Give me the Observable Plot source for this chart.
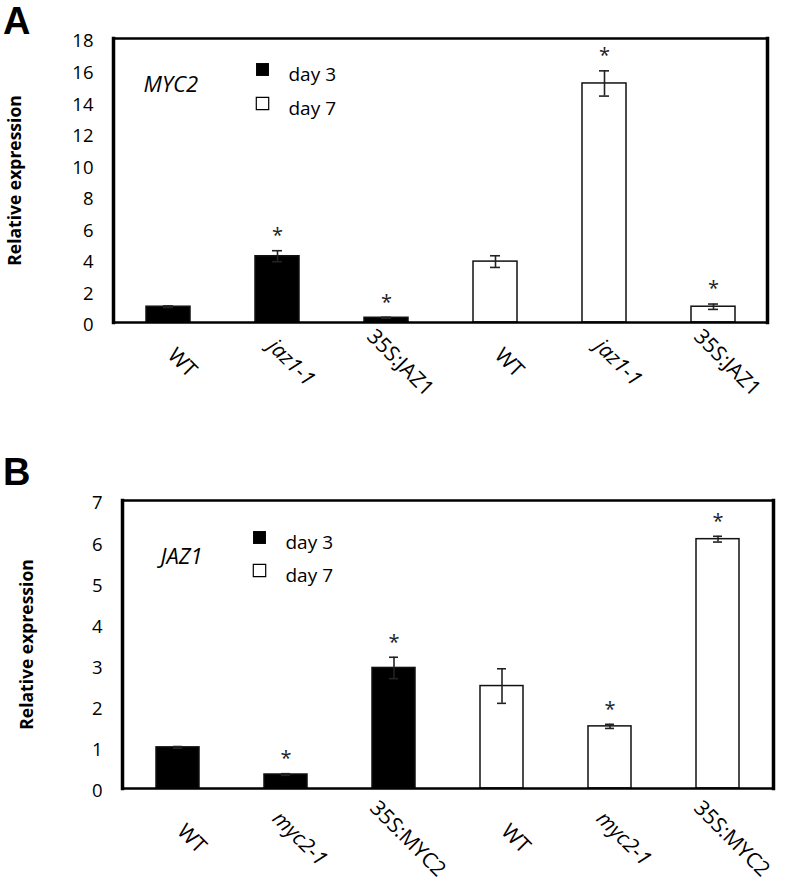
<!DOCTYPE html>
<html><head><meta charset="utf-8">
<script src="https://cdn.jsdelivr.net/npm/d3@7"></script>
<script src="https://cdn.jsdelivr.net/npm/@observablehq/plot@0.6"></script>
<style>
body{margin:0;background:#fff;font-family:"Open Sans",sans-serif;}
#wrap{position:relative;width:800px;height:891px;overflow:hidden;}
.panel{position:absolute;left:0;}
.letter{position:absolute;left:3px;font-family:"Liberation Sans",Arial,sans-serif;font-weight:bold;font-size:38px;line-height:normal;}
</style></head><body>
<div id="wrap">
  <div class="letter" style="top:0px">A</div>
  <div class="letter" style="top:451px">B</div>
</div>
<script>
// ---- data ----
const days = ["day 3", "day 7"];
const genesA = "MYC2";
const genotypesA = ["WT", "jaz1-1", "35S:JAZ1"];
const meanA_day3 = [1.0, 4.2, 0.3];
const errA_day3 = [0.05, 0.35, 0.03];
const sigA_day3 = [false, true, true];
const meanA_day7 = [3.86, 15.15, 1.0];
const errA_day7 = [0.37, 0.8, 0.17];
const sigA_day7 = [false, true, true];
const yTicksA = [0, 2, 4, 6, 8, 10, 12, 14, 16, 18];

const genesB = "JAZ1";
const genotypesB = ["WT", "myc2-1", "35S:MYC2"];
const meanB_day3 = [1.0, 0.34, 2.93];
const errB_day3 = [0.02, 0.02, 0.26];
const sigB_day3 = [false, true, true];
const meanB_day7 = [2.49, 1.51, 6.06];
const errB_day7 = [0.42, 0.05, 0.07];
const sigB_day7 = [false, true, true];
const yTicksB = [0, 1, 2, 3, 4, 5, 6, 7];

const italicGenotypes = ["jaz1-1", "myc2-1"];
const yLabel = "Relative expression";

function rowsOf(genotypes, m3, e3, s3, m7, e7, s7) {
  const rows = [];
  genotypes.forEach((g, i) => rows.push({id: days[0] + "|" + g, genotype: g, day: days[0], mean: m3[i], err: e3[i], sig: s3[i]}));
  genotypes.forEach((g, i) => rows.push({id: days[1] + "|" + g, genotype: g, day: days[1], mean: m7[i], err: e7[i], sig: s7[i]}));
  return rows;
}

function panel(cfg) {
  const {rows, gene, yMax, ticks, height, mt, mb, ml, mr, ylabDx, geneDx, geneDy, legDx, legTextDx, legDy3, legDy7, xlabDy} = cfg;
  const cap = 17;
  return Plot.plot({
    width: 800, height,
    marginTop: mt, marginBottom: mb, marginLeft: ml, marginRight: mr,
    style: {fontFamily: "'Open Sans', sans-serif", fontSize: "18px", color: "black", background: "white"},
    x: {domain: rows.map(d => d.id), paddingInner: 0.6, paddingOuter: 0.3, axis: null},
    y: {domain: [0, yMax], axis: null},
    marks: [
      Plot.barY(rows, {x: "id", y: "mean", fill: d => d.day === days[0] ? "black" : "white", stroke: "#111", strokeWidth: 1.5}),
      Plot.ruleX(rows, {x: "id", y1: d => d.mean - d.err, y2: d => d.mean + d.err, stroke: "#222", strokeWidth: 1.6}),
      Plot.tickY(rows, {x: "id", y: d => d.mean + d.err, insetLeft: cap, insetRight: cap, stroke: "#222", strokeWidth: 1.6}),
      Plot.tickY(rows, {x: "id", y: d => d.mean - d.err, insetLeft: cap, insetRight: cap, stroke: "#222", strokeWidth: 1.6}),
      Plot.text(rows.filter(d => d.sig), {x: "id", y: d => d.mean + d.err, text: () => "*", dy: -15, fontSize: 20, fill: "#222"}),
      Plot.frame({stroke: "black", strokeWidth: 2.5}),
      Plot.frame({anchor: "left", stroke: "black", strokeWidth: 3.5}),
      Plot.frame({anchor: "right", stroke: "black", strokeWidth: 3.5}),
      Plot.axisY({ticks, tickSize: 0, tickPadding: 20, fontSize: 18.5, label: null, dy: 3, tickFormat: d3.format("d")}),
      Plot.text(rows.filter(d => !italicGenotypes.includes(d.genotype)), {x: "id", text: "genotype", frameAnchor: "bottom", rotate: 45, textAnchor: "middle", dx: 9, dy: xlabDy, fontSize: 21}),
      Plot.text(rows.filter(d => italicGenotypes.includes(d.genotype)), {x: "id", text: "genotype", frameAnchor: "bottom", rotate: 45, textAnchor: "middle", dx: 9, dy: xlabDy, fontSize: 21, fontStyle: "italic"}),
      Plot.text([yLabel], {frameAnchor: "left", rotate: -90, dx: ylabDx, fontWeight: "bold", fontSize: 17.5, textAnchor: "middle"}),
      Plot.text([gene], {frameAnchor: "top-left", dx: geneDx, dy: geneDy, fontStyle: "italic", fontSize: 22, textAnchor: "start"}),
      Plot.dot([days[0]], {frameAnchor: "top-left", dx: legDx, dy: legDy3, symbol: "square", r: 7.3, fill: "black", stroke: "none"}),
      Plot.dot([days[1]], {frameAnchor: "top-left", dx: legDx, dy: legDy7, symbol: "square", r: 7, fill: "white", stroke: "black", strokeWidth: 1.2}),
      Plot.text([days[0]], {frameAnchor: "top-left", dx: legTextDx, dy: legDy3 - 2, text: d => d, textAnchor: "start", fontSize: 19}),
      Plot.text([days[1]], {frameAnchor: "top-left", dx: legTextDx, dy: legDy7 - 2, text: d => d, textAnchor: "start", fontSize: 19})
    ]
  });
}

const rowsA = rowsOf(genotypesA, meanA_day3, errA_day3, sigA_day3, meanA_day7, errA_day7, sigA_day7);
const rowsB = rowsOf(genotypesB, meanB_day3, errB_day3, sigB_day3, meanB_day7, errB_day7, sigB_day7);

const pA = panel({rows: rowsA, gene: genesA, yMax: 18, ticks: yTicksA, height: 440, mt: 38, mb: 118, ml: 113, mr: 33,
  ylabDx: -98, geneDx: 30, geneDy: 38, legDx: 149, legTextDx: 175, legDy3: 31, legDy7: 65, xlabDy: 45});
const pB = panel({rows: rowsB, gene: genesB, yMax: 7, ticks: yTicksB, height: 451, mt: 60, mb: 103, ml: 122, mr: 27,
  ylabDx: -95, geneDx: 38, geneDy: 48, legDx: 137, legTextDx: 163, legDy3: 37, legDy7: 70, xlabDy: 55});

const wrap = document.getElementById("wrap");
pA.classList.add("panel"); pA.style.top = "0px";
pB.classList.add("panel"); pB.style.top = "440px";
wrap.insertBefore(pA, wrap.firstChild);
wrap.insertBefore(pB, wrap.firstChild);
</script>
</body></html>
